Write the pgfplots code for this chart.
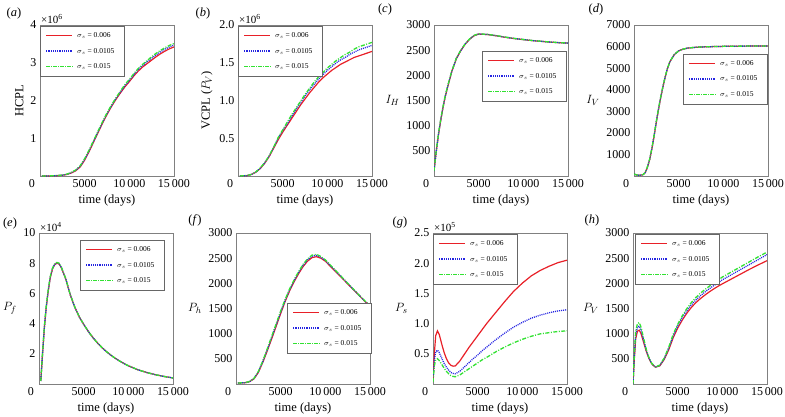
\documentclass[border=0pt]{standalone}
\usepackage{pgfplots}
\pgfplotsset{compat=1.18}
\usepackage{pgfplotstable}
\usepackage{fontspec}
\setmainfont{Liberation Serif}

\definecolor{cR}{RGB}{232,32,40}
\definecolor{cB}{RGB}{35,35,225}
\definecolor{cG}{RGB}{50,225,50}

\pgfplotstableread{
t r b g
200 0 0 0
1000 0.002 0.002 0.002
1500 0.005 0.006 0.006
2000 0.01 0.012 0.013
2500 0.02 0.024 0.026
3000 0.04 0.045 0.048
3500 0.08 0.088 0.095
4000 0.14 0.15 0.16
4500 0.24 0.26 0.27
5000 0.42 0.44 0.46
5500 0.65 0.67 0.69
6000 0.90 0.92 0.94
6500 1.15 1.17 1.19
7000 1.40 1.42 1.44
7500 1.63 1.65 1.67
8000 1.84 1.86 1.88
8500 2.03 2.05 2.07
9000 2.20 2.22 2.25
9500 2.36 2.39 2.42
10000 2.50 2.53 2.56
10500 2.65 2.68 2.71
11000 2.78 2.82 2.85
11500 2.89 2.93 2.96
12000 2.98 3.03 3.06
12500 3.07 3.12 3.16
13000 3.16 3.21 3.25
13500 3.24 3.29 3.33
14000 3.31 3.36 3.40
14500 3.37 3.42 3.46
15000 3.42 3.47 3.51
}\tA

\pgfplotstableread{
t r b g
200 0 0 0
1000 0.005 0.005 0.006
1500 0.02 0.021 0.022
2000 0.05 0.052 0.054
2500 0.10 0.104 0.108
3000 0.17 0.175 0.18
3500 0.26 0.265 0.27
4000 0.37 0.38 0.385
4500 0.48 0.50 0.51
5000 0.58 0.60 0.61
5500 0.67 0.69 0.71
6000 0.76 0.79 0.81
6500 0.85 0.88 0.90
7000 0.94 0.97 0.99
7500 1.02 1.06 1.08
8000 1.10 1.14 1.16
8500 1.17 1.21 1.24
9000 1.24 1.28 1.31
9500 1.30 1.34 1.37
10000 1.35 1.40 1.43
10500 1.40 1.45 1.48
11000 1.44 1.50 1.53
11500 1.48 1.54 1.57
12000 1.51 1.57 1.61
12500 1.54 1.61 1.64
13000 1.57 1.64 1.68
13500 1.59 1.67 1.71
14000 1.61 1.69 1.73
14500 1.63 1.71 1.75
15000 1.65 1.73 1.77
}\tB

\pgfplotstableread{
t r b g
0 100 100 100
250 480 490 500
500 820 830 840
750 1100 1110 1120
1000 1350 1360 1370
1250 1570 1580 1590
1500 1750 1760 1770
2000 2080 2085 2090
2500 2330 2335 2340
3000 2490 2495 2500
3500 2620 2625 2630
4000 2720 2722 2725
4500 2790 2792 2795
5000 2820 2822 2824
6000 2810 2812 2814
7000 2785 2787 2789
8000 2755 2757 2759
9000 2730 2732 2734
10000 2710 2711 2712
11000 2690 2691 2692
12000 2675 2676 2677
13000 2660 2661 2662
14000 2648 2649 2650
15000 2640 2640 2641
}\tC

\pgfplotstableread{
t r b g
0 90 90 90
300 50 50 50
600 30 30 30
1000 60 62 64
1250 150 155 160
1500 400 410 420
1750 750 765 780
2000 1250 1270 1290
2250 1850 1870 1890
2500 2500 2520 2540
2750 3100 3120 3140
3000 3650 3670 3690
3250 4150 4165 4180
3500 4600 4610 4620
3750 4980 4990 5000
4000 5280 5285 5290
4500 5620 5625 5630
5000 5800 5802 5804
5500 5880 5881 5882
6000 5930 5931 5932
7000 5970 5970 5971
8000 5990 5990 5991
10000 6010 6010 6011
12000 6020 6020 6021
15000 6030 6030 6031
}\tD

\pgfplotstableread{
t r b g
200 0.2 0.2 0.2
400 2.0 2.05 2.1
600 3.7 3.75 3.8
800 5.0 5.05 5.1
1000 6.0 6.05 6.1
1250 7.0 7.05 7.1
1500 7.6 7.63 7.66
1750 7.9 7.93 7.96
2000 8.0 8.02 8.05
2250 7.95 7.97 8.0
2500 7.7 7.72 7.74
3000 6.95 6.96 6.97
3500 5.9 5.91 5.92
4000 5.1 5.1 5.11
4500 4.45 4.45 4.46
5000 3.95 3.95 3.95
5500 3.5 3.5 3.5
6000 3.1 3.1 3.1
6500 2.75 2.75 2.75
7000 2.44 2.44 2.44
7500 2.17 2.17 2.17
8000 1.93 1.93 1.93
8500 1.72 1.72 1.72
9000 1.53 1.53 1.53
9500 1.36 1.36 1.36
10000 1.21 1.21 1.21
11000 0.96 0.96 0.96
12000 0.77 0.77 0.77
13000 0.62 0.62 0.62
14000 0.50 0.50 0.50
15000 0.40 0.40 0.40
}\tE

\pgfplotstableread{
t r b g
200 20 20 20
1000 25 25 26
1500 45 47 50
2000 100 105 110
2500 230 240 250
3000 430 445 460
3500 660 680 700
4000 900 925 950
4500 1150 1175 1200
5000 1400 1425 1450
5500 1640 1660 1680
6000 1850 1870 1890
6500 2030 2050 2070
7000 2190 2210 2230
7500 2330 2355 2375
8000 2440 2465 2485
8500 2510 2540 2560
9000 2530 2555 2575
9500 2500 2520 2535
10000 2440 2455 2465
10500 2350 2365 2375
11000 2260 2275 2285
11500 2170 2182 2190
12000 2080 2090 2097
12500 1990 1998 2003
13000 1900 1906 1910
13500 1810 1814 1818
14000 1720 1724 1727
14500 1630 1634 1637
15000 1550 1554 1558
}\tF

\pgfplotstableread{
t r b g
0 0.05 0.05 0.03
150 0.5 0.4 0.3
300 0.8 0.53 0.4
500 0.88 0.56 0.42
700 0.82 0.52 0.39
1000 0.65 0.42 0.32
1250 0.52 0.34 0.26
1500 0.42 0.28 0.21
1750 0.35 0.23 0.17
2000 0.31 0.19 0.14
2250 0.295 0.175 0.125
2500 0.30 0.17 0.12
3000 0.38 0.21 0.15
3500 0.49 0.28 0.20
4000 0.60 0.35 0.25
4500 0.70 0.42 0.30
5000 0.80 0.48 0.35
5500 0.90 0.55 0.40
6000 1.00 0.61 0.44
7000 1.18 0.73 0.53
8000 1.36 0.84 0.61
9000 1.53 0.94 0.68
10000 1.67 1.02 0.74
11000 1.79 1.09 0.79
12000 1.88 1.14 0.83
13000 1.95 1.18 0.85
14000 2.01 1.21 0.87
15000 2.05 1.23 0.88
}\tG

\pgfplotstableread{
t r b g
0 0 0 0
150 500 550 600
300 900 980 1050
500 1050 1130 1200
700 1070 1150 1220
900 1000 1070 1130
1200 820 860 900
1500 640 660 680
1800 500 510 520
2100 400 405 410
2500 335 335 335
3000 360 368 376
3500 490 505 520
4000 680 705 730
4500 920 955 990
5000 1110 1150 1185
5500 1265 1310 1350
6000 1400 1448 1492
6500 1515 1565 1612
7000 1610 1663 1712
7500 1690 1745 1797
8000 1760 1820 1870
8500 1825 1888 1937
9000 1885 1950 2000
9500 1940 2008 2058
10000 1990 2070 2125
11000 2085 2170 2225
12000 2180 2270 2325
13000 2275 2370 2425
14000 2365 2470 2525
15000 2450 2570 2620
}\tH

\tikzset{
  lr/.style={draw=cR, color=cR, line width=1.2pt, solid},
  lb/.style={draw=cB, color=cB, line width=1.3pt, dash pattern=on 1pt off 1pt},
  lg/.style={draw=cG, color=cG, line width=1.3pt, dash pattern=on 4pt off 1.5pt on 1pt off 1.5pt},
}
\pgfplotsset{
  panel/.style={
    scale only axis, width=134pt, height=151pt, anchor=south west,
    xmin=0, xmax=15000, ymin=0,
    axis line style={draw=black!50, line width=0.8pt},
    tick style={draw=none},
    xtick={5000,10000,15000}, xticklabels={5000,10\,000,15\,000},
    extra x ticks={0}, extra x tick labels={0},
    extra x tick style={xticklabel style={xshift=-8pt}},
    tick label style={font=\fontsize{12}{12}\selectfont},
    label style={font=\fontsize{12.5}{13}\selectfont},
    xlabel={time (days)},
    scaled ticks=false,
    /pgf/number format/assume math mode=true,
    clip mode=individual,
  },
  flat/.style={ylabel style={rotate=-90}},
}
\newcommand{\threeplots}[1]{%
  \addplot[lr] table[x=t,y=r]{#1};
  \addplot[lb] table[x=t,y=b]{#1};
  \addplot[lg] table[x=t,y=g]{#1};}
\newcommand{\mult}[1]{\node[anchor=south west, inner sep=1pt, font=\fontsize{11}{11}\selectfont] at (rel axis cs:0,1) {×10\textsuperscript{#1}};}
% legend samples set as coloured rules
\newcommand{\solidsample}{\textcolor{cR}{\rule[-0.7pt]{26pt}{1.4pt}}}
\newcommand{\dotsample}{\textcolor{cB}{\foreach \i in {1,...,12}{\rule[-0.7pt]{1.2pt}{1.4pt}\hspace{1pt}}}}
\newcommand{\dashdotsample}{\textcolor{cG}{\foreach \i in {1,...,4}{\rule[-0.7pt]{3.6pt}{1.4pt}\hspace{1.2pt}\rule[-0.7pt]{1pt}{1.4pt}\hspace{1.2pt}}}}
% legend box: #1 axis name, #2 x offset, #3 y offset from the axis' north west corner
\newcommand{\mylegend}[3]{%
  \begin{scope}[shift={(#1.north west)}, xshift=#2, yshift=#3]
    \draw[black!60, line width=0.6pt, fill=white] (0pt,0pt) rectangle (84pt,-50pt);
    \begin{scope}[every node/.style={anchor=west, inner sep=0pt, text=black, font=\fontsize{7.5}{8}\selectfont}]
      \node at (6pt,-9.5pt) {\solidsample};
      \node at (6pt,-25pt) {\dotsample};
      \node at (6pt,-40.5pt) {\dashdotsample};
      \node at (37pt,-9.5pt) {$\sigma_s$ = 0.006};
      \node at (37pt,-25pt) {$\sigma_s$ = 0.0105};
      \node at (37pt,-40.5pt) {$\sigma_s$ = 0.015};
    \end{scope}
  \end{scope}}

\begin{document}
\begin{tikzpicture}
\useasboundingbox (0pt,0pt) rectangle (785pt,-416pt);

% (a)
\begin{axis}[panel, name=pa, at={(40pt,-176pt)}, ymax=4, ytick={1,2,3,4}, yticklabels={1,2,3,4},
  ylabel={HCPL}]
\threeplots{\tA}
\mult{6}
\end{axis}
\mylegend{pa}{0pt}{-1pt}

% (b)
\begin{axis}[panel, name=pb, at={(238pt,-176pt)}, ymax=2, ytick={0.5,1,1.5,2}, yticklabels={0.5,1.0,1.5,2.0},
  ylabel={VCPL ($P_V$)}]
\threeplots{\tB}
\mult{6}
\end{axis}
\mylegend{pb}{0pt}{-1pt}

% (c)
\begin{axis}[panel, flat, name=pc, at={(434pt,-176pt)}, ymax=3000, ytick={500,1000,1500,2000,2500,3000},
  yticklabels={500,1000,1500,2000,2500,3000},
  ylabel={$I_H$}]
\threeplots{\tC}
\end{axis}
\mylegend{pc}{48pt}{-26pt}

% (d)
\begin{axis}[panel, flat, name=pd, at={(634pt,-176pt)}, ymax=7000, ytick={1000,2000,3000,4000,5000,6000,7000},
  yticklabels={1000,2000,3000,4000,5000,6000,7000},
  ylabel={$I_V$}]
\threeplots{\tD}
\end{axis}
\mylegend{pd}{49pt}{-29pt}

% (e)
\begin{axis}[panel, flat, name=pe, at={(39pt,-384pt)}, ymax=10, ytick={2,4,6,8,10}, yticklabels={2,4,6,8,10},
  ylabel={$P_f$}]
\threeplots{\tE}
\mult{4}
\end{axis}
\mylegend{pe}{41pt}{-7pt}

% (f)
\begin{axis}[panel, flat, name=pf, at={(236pt,-384pt)}, ymax=3000, ytick={500,1000,1500,2000,2500,3000},
  yticklabels={500,1000,1500,2000,2500,3000},
  ylabel={$P_h$}]
\threeplots{\tF}
\end{axis}
\mylegend{pf}{51pt}{-70pt}

% (g)
\begin{axis}[panel, flat, name=pg, at={(433pt,-384pt)}, ymax=2.5, ytick={0.5,1,1.5,2,2.5},
  yticklabels={0.5,1.0,1.5,2.0,2.5},
  ylabel={$P_s$}]
\threeplots{\tG}
\mult{5}
\end{axis}
\mylegend{pg}{0pt}{-1pt}

% (h)
\begin{axis}[panel, flat, name=ph, at={(633pt,-384pt)}, ymax=3000, ytick={500,1000,1500,2000,2500,3000},
  yticklabels={500,1000,1500,2000,2500,3000},
  ylabel={$P_V$}]
\threeplots{\tH}
\end{axis}
\mylegend{ph}{2pt}{-1pt}

\begin{scope}[font=\fontsize{12.5}{13}\selectfont]
\node at (14pt,-13pt) {(\textit{a})};
\node at (203pt,-13pt) {(\textit{b})};
\node at (385pt,-9pt) {(\textit{c})};
\node at (596pt,-9pt) {(\textit{d})};
\node at (10pt,-223pt) {(\textit{e})};
\node at (195pt,-220pt) {(\textit{f})};
\node at (400pt,-222pt) {(\textit{g})};
\node at (592pt,-220pt) {(\textit{h})};
\end{scope}
\end{tikzpicture}
\end{document}
